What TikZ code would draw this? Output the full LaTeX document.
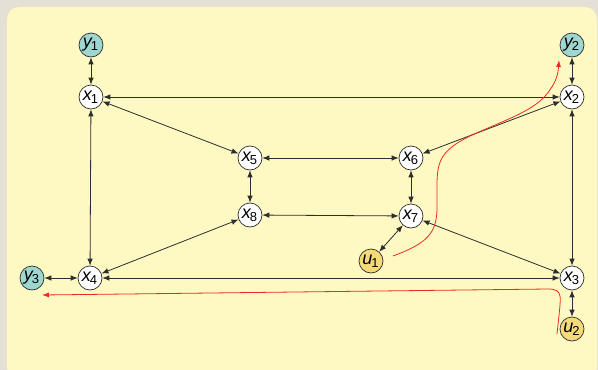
\documentclass[tikz,border=0pt]{standalone}
\usepackage{fontspec}
\setmainfont{Liberation Sans}
\usetikzlibrary{arrows.meta}
\definecolor{bgout}{HTML}{E4E0D6}
\definecolor{bgin}{HTML}{FEF8C2}
\definecolor{yfill}{HTML}{9ED6D0}
\definecolor{ufill}{HTML}{F4DA78}
\definecolor{edgec}{HTML}{2E2E2E}
\definecolor{redc}{HTML}{EE2A1E}
\newcommand{\lab}[2]{\kern-1pt{\fontsize{18}{18}\selectfont\itshape #1}\kern-1pt\raisebox{-0.5ex}{\fontsize{13}{13}\selectfont #2}}
\tikzset{
  vnode/.style={circle,draw=edgec,line width=0.7pt,minimum size=24pt,inner sep=0pt,fill=white},
  ynode/.style={vnode,fill=yfill},
  unode/.style={vnode,fill=ufill},
  conn/.style={draw=edgec,line width=0.8pt,{Latex[length=7pt,width=5.5pt]}-{Latex[length=7pt,width=5.5pt]}},
  sig/.style={draw=redc,line width=0.8pt,-{Latex[length=7pt,width=5pt]}}
}
\begin{document}
\begin{tikzpicture}[x=1pt,y=-1pt]
\useasboundingbox (0,0) rectangle (598,370);
\fill[bgout] (0,0) rectangle (598,370);
\fill[bgin,rounded corners=12pt] (7,7) rectangle (597,380);
\node[ynode] (y1) at (91,45) {\lab{y}{1}};
\node[vnode] (x1) at (91,97) {\lab{x}{1}};
\node[vnode] (x2) at (572,97) {\lab{x}{2}};
\node[ynode] (y2) at (572,45) {\lab{y}{2}};
\node[vnode] (x5) at (250,158) {\lab{x}{5}};
\node[vnode] (x6) at (411,158) {\lab{x}{6}};
\node[vnode] (x8) at (250,215) {\lab{x}{8}};
\node[vnode] (x7) at (411,216) {\lab{x}{7}};
\node[unode] (u1) at (371,261) {\lab{u}{1}};
\node[vnode] (x4) at (90,278) {\lab{x}{4}};
\node[ynode] (y3) at (32,278) {\lab{y}{3}};
\node[vnode] (x3) at (572,278) {\lab{x}{3}};
\node[unode] (u2) at (572,329) {\lab{u}{2}};
\draw[conn] (y1) -- (x1);
\draw[conn] (y2) -- (x2);
\draw[conn] (x1) -- (x2);
\draw[conn] (x1) -- (x5);
\draw[conn] (x1) -- (x4);
\draw[conn] (x2) -- (x6);
\draw[conn] (x2) -- (x3);
\draw[conn] (x5) -- (x6);
\draw[conn] (x5) -- (x8);
\draw[conn] (x6) -- (x7);
\draw[conn] (x8) -- (x7);
\draw[conn] (x4) -- (x8);
\draw[conn] (x7) -- (x3);
\draw[conn] (u1) -- (x7);
\draw[conn] (y3) -- (x4);
\draw[conn] (x4) -- (x3);
\draw[conn] (x3) -- (u2);
\coordinate (r1s) at (393,256);
\coordinate (r1e) at (559,60);
\coordinate (r2s) at (557,334);
\coordinate (r2e) at (42,295);
\draw[sig] (r1s) .. controls (428,243) and (436,233) .. (437,210)
  -- (437,185)
  .. controls (437,160) and (442,150) .. (470,136)
  .. controls (500,122) and (532,112) .. (546,95)
  .. controls (556,83) and (558,75) .. (r1e);
\draw[sig] (r2s) .. controls (559,315) and (561,300) .. (560,296)
  .. controls (559,291) and (556,289) .. (548,289)
  -- (r2e);
\end{tikzpicture}
\end{document}
